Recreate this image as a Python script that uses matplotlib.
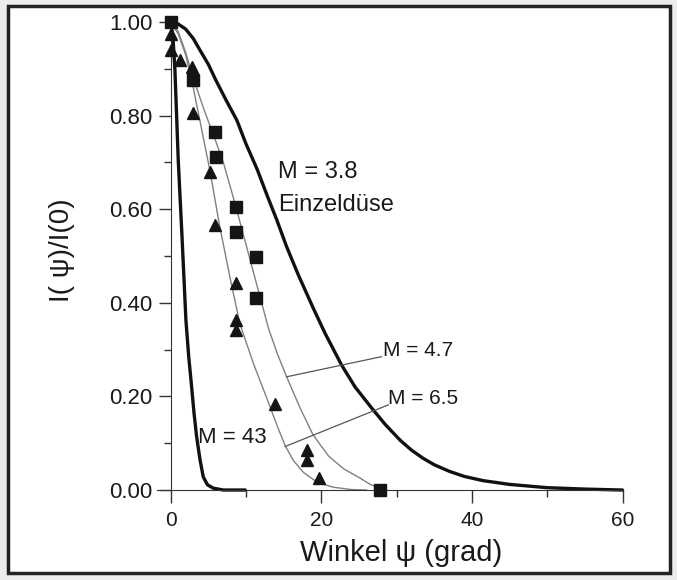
import matplotlib
matplotlib.use("Agg")
import matplotlib.pyplot as plt
from matplotlib.patches import Rectangle

plt.rcParams['font.family'] = ['Liberation Sans', 'DejaVu Sans']

# curves (winkel psi in grad, I(psi)/I(0))
psi_38 = [0, 1, 2, 3, 3.9, 5, 6, 7.4, 8.8, 10, 11.5, 12.8, 14.1, 15.4, 17, 18.9,
          20.5, 22.7, 24.5, 26.7, 28.5, 30.5, 32, 33.5, 35, 37, 39, 41.5, 45, 50,
          55, 60]
I_38 = [1.0, 0.996, 0.985, 0.965, 0.94, 0.91, 0.876, 0.832, 0.79, 0.74, 0.685, 0.63,
        0.577, 0.52, 0.458, 0.39, 0.335, 0.267, 0.22, 0.175, 0.14, 0.106, 0.085,
        0.068, 0.054, 0.04, 0.029, 0.02, 0.012, 0.005, 0.002, 0.0]

psi_47 = [0, 1, 2, 3, 4.5, 6, 7, 8.5, 10, 11.5, 13, 14.2, 15.4, 17.2, 18.9, 21, 23,
          25.1, 26.5, 27.8]
I_47 = [1.0, 0.98, 0.935, 0.88, 0.81, 0.745, 0.70, 0.615, 0.525, 0.435, 0.345, 0.29,
        0.242, 0.175, 0.118, 0.072, 0.045, 0.026, 0.012, 0.003]

psi_65 = [0, 1, 2, 3, 4, 5.2, 6.5, 8, 9.2, 11, 12.2, 13.2, 14.2, 15.2, 16.3, 17.6,
          19.5, 21.6, 24, 26]
I_65 = [1.0, 0.975, 0.93, 0.86, 0.78, 0.684, 0.565, 0.445, 0.355, 0.27, 0.22, 0.178,
        0.135, 0.095, 0.063, 0.038, 0.016, 0.006, 0.001, 0.0]

psi_43 = [0, 0.3, 0.57, 1.01, 1.5, 2.03, 2.4, 2.79, 3.1, 3.45, 3.9, 4.33, 4.9, 5.66,
          7.0, 9.9]
I_43 = [1.0, 0.97, 0.897, 0.705, 0.545, 0.363, 0.285, 0.22, 0.165, 0.114, 0.065,
        0.028, 0.011, 0.004, 0.0, 0.0]

# measured points
sq_psi = [0, 3.0, 5.9, 6.0, 8.7, 8.7, 11.3, 11.3, 27.8]
sq_I = [1.0, 0.876, 0.766, 0.711, 0.604, 0.552, 0.497, 0.41, 0.0]

tri_psi = [0, 0, 1.2, 2.8, 3.0, 5.2, 5.9, 8.7, 8.7, 8.7, 13.8, 18.1, 18.1, 19.7]
tri_I = [0.975, 0.94, 0.92, 0.905, 0.805, 0.68, 0.566, 0.442, 0.363, 0.342, 0.184,
         0.085, 0.064, 0.025]

fig = plt.figure(figsize=(6.77, 5.8), dpi=100, facecolor='#ececec')
# scanned page frame, kept behind the axes
fig.patches.append(Rectangle((8 / 677, 7 / 580), 662 / 677, 567 / 580,
                             transform=fig.transFigure, facecolor='white',
                             edgecolor='#222222', lw=2.5, zorder=-10))

ax = fig.add_axes([0.2298, 0.139, 0.712, 0.839])
ax.set_zorder(1)
ax.patch.set_alpha(0)
ax.set_xlim(-2, 62)
ax.set_ylim(-0.02, 1.02)

thick = dict(color='#111111', lw=2.4, solid_capstyle='round',
             solid_joinstyle='round', clip_on=False)
thin = dict(color='#808080', lw=1.0, clip_on=False)
ax.plot(psi_38, I_38, **thick)
ax.plot(psi_43, I_43, **thick)
ax.plot(psi_47, I_47, **thin)
ax.plot(psi_65, I_65, **thin)

ax.plot(sq_psi, sq_I, 's', color='#151515', ms=9, clip_on=False, zorder=4)
ax.plot(tri_psi, tri_I, '^', color='#151515', ms=9, clip_on=False, zorder=4)

# leader lines to the labels
ax.plot([15.4, 28.0], [0.242, 0.285], color='#555555', lw=0.9)
ax.plot([15.2, 28.9], [0.093, 0.182], color='#555555', lw=0.9)

ax.text(14.3, 0.68, 'M = 3.8', fontsize=17, va='center', color='#1a1a1a')
ax.text(14.3, 0.61, 'Einzeldüse', fontsize=17, va='center', color='#1a1a1a')
ax.text(28.2, 0.299, 'M = 4.7', fontsize=15, va='center', color='#1a1a1a')
ax.text(28.9, 0.196, 'M = 6.5', fontsize=15, va='center', color='#1a1a1a')
ax.text(3.6, 0.113, 'M = 43', fontsize=16, va='center', color='#1a1a1a')

# floating axes through the origin
for s in ['top', 'right']:
    ax.spines[s].set_visible(False)
ax.spines['left'].set_position(('data', 0))
ax.spines['bottom'].set_position(('data', 0))
ax.spines['left'].set_bounds(0, 1.0)
ax.spines['bottom'].set_bounds(-1.8, 60)
ax.spines['left'].set_color('#333333')
ax.spines['bottom'].set_color('#333333')

ax.set_xticks([0, 20, 40, 60])
ax.set_xticks([10, 30, 50], minor=True)
ax.set_yticks([0, 0.2, 0.4, 0.6, 0.8, 1.0])
ax.set_yticklabels(['0.00', '0.20', '0.40', '0.60', '0.80', '1.00'])
ax.set_yticks([0.1, 0.3, 0.5, 0.7, 0.9], minor=True)
ax.tick_params(which='major', direction='out', length=9, width=1, labelsize=16,
               color='#333333', labelcolor='#1a1a1a')
ax.tick_params(which='minor', direction='out', length=5, width=1, color='#333333')
ax.tick_params(axis='x', which='major', pad=6, labelsize=15)
ax.tick_params(axis='y', which='major', pad=4)

fig.text(401 / 677, 1 - 553 / 580, 'Winkel ψ (grad)', fontsize=21,
         ha='center', va='center', color='#1a1a1a', zorder=2)
fig.text(62 / 677, 1 - 250 / 580, 'I( ψ)/I(0)', fontsize=20, rotation=90,
         ha='center', va='center', color='#1a1a1a', zorder=2)

fig.savefig('out.png', dpi=100, facecolor=fig.get_facecolor())
